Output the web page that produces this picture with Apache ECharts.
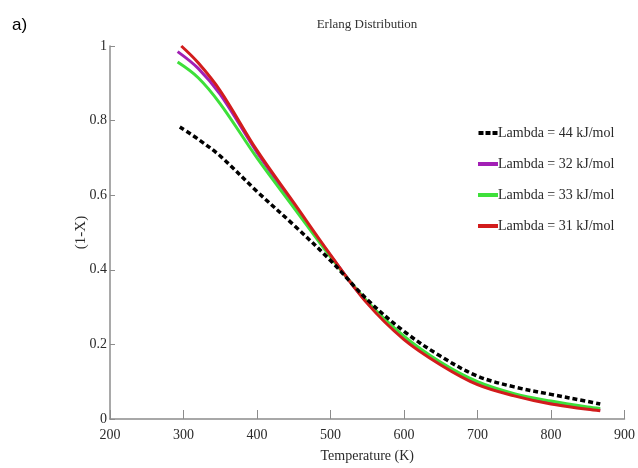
<!DOCTYPE html>
<html>
<head>
<meta charset="utf-8">
<script src="https://cdn.jsdelivr.net/npm/echarts@6/dist/echarts.min.js"></script>
<style>
  html, body { margin: 0; padding: 0; background: #fff; }
  #chart { width: 638px; height: 468px; }
</style>
</head>
<body>
<div id="chart"></div>
<script>
// Temperature samples (K) for each curve
const temps44 = [295, 320, 350, 400, 450, 500, 550, 600, 650, 700, 750, 800, 850, 867];
const temps32 = [292, 320, 350, 400, 450, 500, 550, 600, 650, 700, 750, 800, 850, 867];
const temps33 = [292, 320, 350, 400, 450, 500, 550, 600, 650, 700, 750, 800, 850, 867];
const temps31 = [297, 320, 350, 400, 450, 500, 550, 600, 650, 700, 750, 800, 850, 867];

// Unconverted fraction (1-X) for each activation-energy spread
const lambda44 = [0.783, 0.750, 0.705, 0.610, 0.520, 0.425, 0.320, 0.235, 0.168, 0.115, 0.086, 0.066, 0.047, 0.040];
const lambda32 = [0.985, 0.940, 0.870, 0.715, 0.575, 0.438, 0.312, 0.216, 0.148, 0.095, 0.064, 0.043, 0.028, 0.024];
const lambda33 = [0.957, 0.915, 0.845, 0.700, 0.567, 0.435, 0.315, 0.222, 0.152, 0.100, 0.068, 0.048, 0.032, 0.028];
const lambda31 = [1.000, 0.955, 0.880, 0.720, 0.580, 0.440, 0.310, 0.213, 0.145, 0.092, 0.062, 0.040, 0.026, 0.022];

const seriesNames = ['Lambda = 44 kJ/mol', 'Lambda = 32 kJ/mol', 'Lambda = 33 kJ/mol', 'Lambda = 31 kJ/mol'];
const xTicks = [200, 300, 400, 500, 600, 700, 800, 900];
const yTicks = [0, 0.2, 0.4, 0.6, 0.8, 1];

const pair = (xs, ys) => xs.map((x, i) => [x, ys[i]]);

const serif = '"Liberation Serif", "DejaVu Serif", serif';
const textColor = '#2a2a2a';
const axisColor = '#8c8c8c';

const colors = {
  k44: '#000000',
  k32: '#a21fb5',
  k33: '#3ee03a',
  k31: '#d21c1c'
};

// three short bars: the legend key of the dashed curve
const dashedKey = 'path://M0,0h5v4h-5z M7,0h5v4h-5z M14,0h5v4h-5z';

const chart = echarts.init(document.getElementById('chart'), null, { renderer: 'canvas' });

chart.setOption({
  animation: false,
  backgroundColor: '#ffffff',
  title: {
    text: 'Erlang Distribution',
    left: 362,
    textAlign: 'center',
    top: 13,
    textStyle: { fontFamily: serif, fontSize: 13, fontWeight: 'normal', color: '#333' }
  },
  graphic: [{
    type: 'text',
    left: 12,
    top: 17,
    style: { text: 'a)', fontFamily: 'Arial, "Liberation Sans", sans-serif', fontSize: 17, fill: '#000' }
  }],
  legend: {
    orient: 'vertical',
    left: 473,
    top: 121,
    itemGap: 17,
    itemWidth: 20,
    itemHeight: 4,
    textStyle: { fontFamily: serif, fontSize: 14, color: textColor, padding: [0, 0, 0, -5] },
    data: [
      { name: seriesNames[0], icon: dashedKey },
      { name: seriesNames[1], icon: 'rect' },
      { name: seriesNames[2], icon: 'rect' },
      { name: seriesNames[3], icon: 'rect' }
    ]
  },
  grid: { left: 110, right: 12, top: 46, bottom: 48 },
  xAxis: {
    type: 'value',
    min: xTicks[0],
    max: xTicks[xTicks.length - 1],
    interval: 100,
    name: 'Temperature (K)',
    nameLocation: 'middle',
    nameGap: 30,
    nameTextStyle: { fontFamily: serif, fontSize: 14, color: textColor },
    axisLine: { lineStyle: { color: axisColor, width: 1.5 } },
    axisTick: { inside: true, length: 9, lineStyle: { color: axisColor, width: 1 } },
    axisLabel: { fontFamily: serif, fontSize: 14, color: textColor, margin: 9 },
    splitLine: { show: false }
  },
  yAxis: {
    type: 'value',
    min: yTicks[0],
    max: yTicks[yTicks.length - 1],
    interval: 0.2,
    name: '(1-X)',
    nameLocation: 'middle',
    nameGap: 21,
    nameMoveOverlap: false,
    nameTextStyle: { fontFamily: serif, fontSize: 15, color: textColor },
    axisLine: { show: true, lineStyle: { color: axisColor, width: 1.5 } },
    axisTick: { show: true, inside: true, length: 5, lineStyle: { color: axisColor, width: 1 } },
    axisLabel: { fontFamily: serif, fontSize: 14, color: textColor, margin: 3 },
    splitLine: { show: false }
  },
  series: [
    {
      name: seriesNames[1], type: 'line', smooth: 0.35, symbol: 'none', z: 2,
      data: pair(temps32, lambda32),
      lineStyle: { color: colors.k32, width: 3 }, itemStyle: { color: colors.k32 }
    },
    {
      name: seriesNames[2], type: 'line', smooth: 0.35, symbol: 'none', z: 3,
      data: pair(temps33, lambda33),
      lineStyle: { color: colors.k33, width: 3 }, itemStyle: { color: colors.k33 }
    },
    {
      name: seriesNames[3], type: 'line', smooth: 0.35, symbol: 'none', z: 4,
      data: pair(temps31, lambda31),
      lineStyle: { color: colors.k31, width: 3 }, itemStyle: { color: colors.k31 }
    },
    {
      name: seriesNames[0], type: 'line', smooth: 0.35, symbol: 'none', z: 5,
      data: pair(temps44, lambda44),
      lineStyle: { color: colors.k44, width: 3.5, type: [5, 3] }, itemStyle: { color: colors.k44 }
    }
  ]
});
</script>
</body>
</html>
